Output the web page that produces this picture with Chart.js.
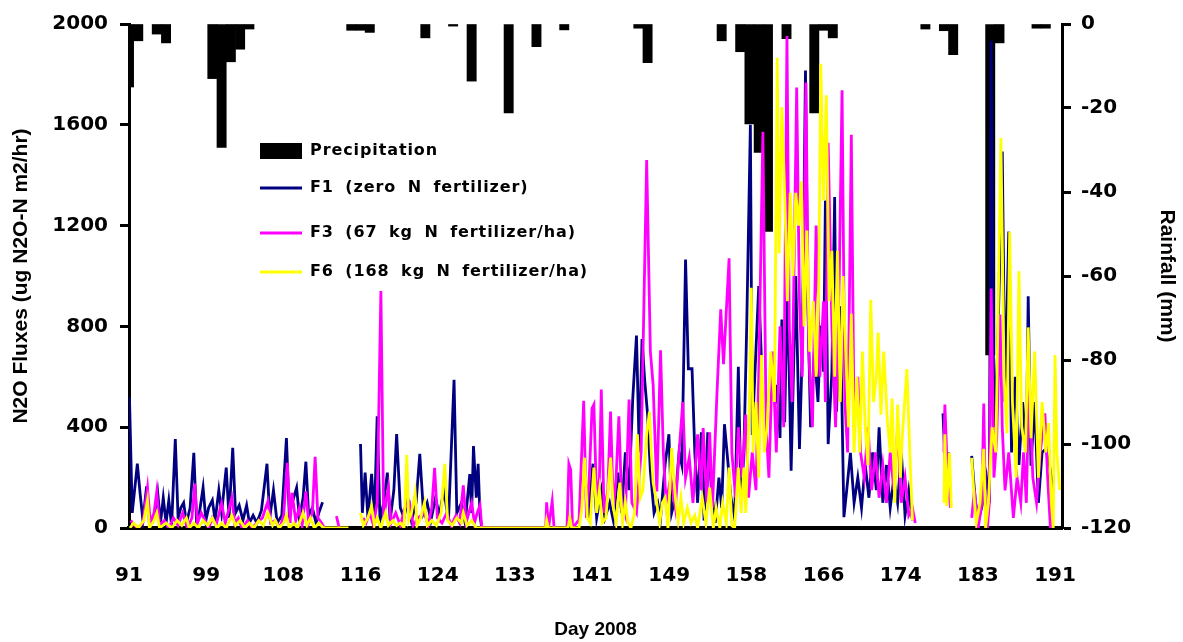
<!DOCTYPE html>
<html>
<head>
<meta charset="utf-8">
<script src="https://cdn.jsdelivr.net/npm/chart.js@4.4.1/dist/chart.umd.min.js"></script>
<style>
html,body{margin:0;padding:0;background:#fff;}
#wrap{width:1183px;height:642px;}
</style>
</head>
<body>
<div id="wrap"><canvas id="c" width="1183" height="642"></canvas></div>
<script>
// ---- data ----
const xTickLabels = [91, 99, 108, 116, 124, 133, 141, 149, 158, 166, 174, 183, 191];
const leftTicks = [0, 400, 800, 1200, 1600, 2000];
const rightTicks = [0, -20, -40, -60, -80, -100, -120];

const rainDays = [91, 92, 94, 95, 100, 101, 102, 103, 104, 115, 116, 117, 123, 126, 128, 132, 135, 138, 146, 147, 155, 157, 158, 159, 160, 162, 165, 166, 167, 177, 179, 180, 184, 185, 189, 190];
const rainMm   = [-15, -4, -2.4, -4.5, -13, -29.4, -9, -6, -1.2, -1.5, -1.5, -2, -3.3, -0.5, -13.6, -21.2, -5.4, -1.4, -1, -9.2, -4, -6.6, -23.8, -30.6, -49.4, -3.5, -21.2, -1.5, -3.3, -1.2, -1.6, -7.3, -78.8, -4.5, -1, -1];

const F1 = [
[91.05,520],[91.35,60],[91.9,255],[92.2,137],[92.5,30],[92.9,165],[93.2,20],[93.7,40],[94.1,140],[94.4,20],[94.7,120],[95.0,20],[95.3,110],[95.6,10],[96.0,353],[96.3,40],[96.6,80],[96.9,100],[97.2,20],[97.6,80],[98.0,298],[98.3,20],[98.6,60],[99.0,161],[99.3,30],[99.6,80],[100.0,110],[100.3,30],[100.7,150],[101.0,60],[101.5,240],[101.8,40],[102.2,318],[102.5,60],[102.9,90],[103.3,30],[103.7,90],[104.0,20],[104.4,50],[104.8,20],[105.3,70],[105.9,255],[106.2,40],[106.6,150],[107.0,20],[107.5,50],[108.0,357],[108.3,60],[108.7,110],[109.1,160],[109.4,40],[109.8,120],[110.1,263],[110.4,50],[110.8,80],[111.2,20],[111.5,60],[111.9,102],[112.1,null],
[116.0,333],[116.2,60],[116.5,220],[116.8,40],[117.2,215],[117.5,40],[117.8,443],[118.1,30],[118.5,100],[118.9,220],[119.2,30],[119.6,150],[119.9,373],[120.3,80],[120.7,40],[121.1,120],[121.5,30],[122.0,100],[122.4,294],[122.8,60],[123.2,100],[123.6,30],[124.1,120],[124.5,50],[125.0,150],[125.5,30],[126.1,588],[126.4,60],[126.9,100],[127.3,20],[127.8,214],[128.0,60],[128.2,325],[128.5,120],[128.7,255],[128.9,50],[129.1,0],[129.2,null],
[140.6,40],[141.1,255],[141.5,40],[142.0,150],[142.4,40],[142.9,100],[143.3,30],[143.8,220],[144.2,60],[144.6,300],[145.0,150],[145.4,515],[145.8,764],[146.1,300],[146.4,750],[146.7,580],[147.0,450],[147.3,227],[147.7,60],[148.1,100],[148.4,40],[148.9,255],[149.3,372],[149.6,60],[150.0,120],[150.4,300],[150.7,250],[151.1,1065],[151.4,632],[151.8,632],[152.1,300],[152.4,100],[152.8,380],[153.1,30],[153.5,380],[153.9,150],[154.3,20],[154.7,200],[155.0,80],[155.3,412],[155.7,250],[156.0,120],[156.4,40],[156.8,640],[157.1,100],[157.4,300],[157.7,796],[158.1,1600],[158.3,369],[158.6,620],[159.0,960],[159.3,659],[159.5,null],
[160.8,494],[161.0,568],[161.3,357],[161.5,827],[161.8,420],[162.1,980],[162.5,227],[163.0,1000],[163.4,314],[163.7,700],[164.05,1815],[164.3,900],[164.6,400],[165.0,700],[165.4,500],[165.7,803],[166.0,620],[166.2,1300],[166.5,333],[166.9,620],[167.2,1313],[167.4,462],[167.8,880],[168.2,43],[168.5,149],[168.9,298],[169.3,100],[169.7,200],[170.1,80],[170.5,250],[170.9,120],[171.3,300],[171.7,150],[172.0,400],[172.4,100],[172.8,250],[173.2,80],[173.6,200],[174.0,100],[174.4,300],[174.8,50],[175.2,150],[175.6,30],[175.8,null],
[178.9,455],[179.2,200],[179.5,300],[179.7,null],
[182.0,286],[182.4,100],[182.8,40],[183.2,100],[183.6,200],[183.9,100],[184.1,1933],[184.4,400],[184.8,700],[185.3,1494],[185.6,500],[186.0,1176],[186.3,300],[186.7,600],[187.1,250],[187.5,500],[187.9,300],[188.1,920],[188.4,247],[188.8,500],[189.2,100],[189.6,300],[190.0,314],[190.4,250],[190.8,150]
];

const F3 = [
[91.2,30],[91.6,10],[92.0,0],[92.5,20],[93.0,161],[93.3,20],[93.7,60],[94.0,145],[94.3,10],[94.8,30],[95.3,0],[95.8,40],[96.3,10],[96.8,60],[97.3,0],[97.8,40],[98.1,176],[98.4,20],[98.8,60],[99.2,30],[99.6,0],[100.0,40],[100.4,10],[101.0,98],[101.4,20],[102.1,120],[102.4,20],[102.8,40],[103.2,0],[103.8,30],[104.3,0],[104.8,20],[105.4,40],[106.0,106],[106.3,20],[106.8,30],[107.3,0],[107.7,50],[108.1,259],[108.4,20],[108.6,140],[109.0,30],[109.4,80],[109.7,10],[110.1,145],[110.4,20],[110.8,60],[111.1,282],[111.4,40],[111.8,20],[112.1,0],[112.4,null],
[113.4,47],[113.7,0],[113.9,null],
[116.3,40],[116.6,20],[117.0,60],[117.4,10],[117.8,100],[118.2,940],[118.5,40],[119.0,160],[119.3,20],[119.8,60],[120.3,10],[120.8,80],[121.3,100],[121.7,10],[122.2,40],[122.9,60],[123.3,10],[123.7,80],[124.0,239],[124.3,40],[124.8,20],[125.3,60],[125.8,10],[126.3,50],[126.7,20],[127.1,169],[127.4,20],[127.7,60],[128.0,100],[128.3,20],[128.6,60],[128.9,90],[129.1,0],[136.0,0],[136.1,102],[136.3,0],[136.7,106],[136.9,0],[138.3,0],[138.5,254],[138.7,230],[138.9,0],
[139.6,32],[140.1,505],[140.4,40],[140.7,200],[141.0,475],[141.2,490],[141.5,100],[141.8,200],[142.0,549],[142.3,60],[142.7,150],[143.0,462],[143.3,80],[143.6,200],[143.9,443],[144.2,100],[144.6,50],[145.0,510],[145.3,100],[145.8,60],[146.3,300],[146.9,1460],[147.3,700],[147.6,567],[148.0,145],[148.4,705],[148.7,300],[149.0,100],[149.5,200],[150.0,80],[150.4,300],[150.8,500],[151.1,200],[151.5,280],[151.9,100],[152.4,372],[152.8,150],[153.0,397],[153.4,100],[153.7,380],[154.0,80],[154.5,541],[154.9,868],[155.2,650],[155.5,860],[155.8,1070],
[156.1,300],[156.5,120],[156.8,400],[157.2,200],[157.6,450],[157.9,120],[158.3,300],[158.7,150],[159.0,600],[159.45,1572],[159.8,400],[160.1,200],[160.5,700],[160.9,300],[161.3,800],[161.7,400],[162.05,1952],[162.3,800],[162.6,500],[163.1,1748],[163.4,900],[163.7,600],[164.1,1768],[164.4,700],[164.8,400],[165.2,1200],[165.6,600],[166.0,900],[166.2,500],[166.5,1529],[166.9,800],[167.3,400],[167.7,1000],[168.0,1737],[168.3,500],[168.6,300],[169.0,1560],[169.3,400],[169.7,600],[170.0,300],[170.4,200],[170.8,400],[171.2,150],[171.6,300],[172.0,120],[172.4,250],[172.8,100],[173.2,300],[173.6,150],[174.0,400],[174.4,100],[174.8,200],[175.2,50],[175.6,80],[175.9,20],[176.0,null],
[179.0,300],[179.1,490],[179.4,200],[179.7,80],[179.9,null],
[182.0,40],[182.3,150],[182.7,0],[183.1,100],[183.3,494],[183.5,60],[183.7,0],[183.9,100],[184.1,950],[184.4,200],[184.7,357],[185.05,847],[185.3,400],[185.6,149],[186.0,300],[186.5,40],[186.9,200],[187.3,100],[187.6,300],[187.9,100],[188.2,600],[188.6,200],[189.0,100],[189.4,300],[189.9,455],[190.2,200],[190.5,0],[190.7,100]
];

const F6 = [
[91.1,0],[91.5,20],[92.0,0],[92.6,30],[93.0,110],[93.2,0],[93.7,30],[94.0,60],[94.3,0],[95.0,20],[95.6,0],[96.2,30],[96.7,10],[97.2,40],[97.5,0],[98.0,20],[98.5,0],[99.0,30],[99.5,10],[100.0,40],[100.5,0],[101.0,20],[101.5,0],[102.1,50],[102.5,10],[103.0,30],[103.5,0],[104.0,20],[104.5,0],[105.0,30],[105.5,10],[106.0,60],[106.5,10],[106.8,30],[107.2,0],[107.7,20],[108.0,50],[108.3,0],[108.8,20],[109.2,0],[109.8,60],[110.2,10],[110.6,40],[111.0,0],[111.5,20],[112.0,0],[114.7,0],[115.0,null],
[116.0,60],[116.3,10],[116.8,40],[117.2,88],[117.5,10],[117.8,40],[118.2,0],[118.7,60],[119.0,10],[119.5,30],[119.9,10],[120.3,20],[120.7,0],[121.0,290],[121.2,30],[121.5,60],[121.9,140],[122.1,10],[122.5,40],[122.9,100],[123.2,10],[123.7,30],[124.2,10],[124.7,60],[125.1,255],[125.4,30],[125.9,10],[126.4,40],[126.9,20],[127.1,60],[127.5,10],[128.0,30],[128.5,0],[129.1,0],[136.0,0],[136.1,30],[136.3,0],[138.4,0],[138.6,40],[138.8,0],[139.6,0],
[139.9,80],[140.2,279],[140.5,40],[140.8,20],[141.2,240],[141.5,60],[141.8,150],[142.1,20],[142.5,40],[143.0,279],[143.3,80],[143.6,20],[144.0,180],[144.3,20],[144.6,100],[144.9,20],[145.2,0],[145.6,60],[145.9,372],[146.2,120],[146.5,150],[146.9,370],[147.2,462],[147.4,300],[147.6,180],[147.9,120],[148.3,20],[148.6,100],[148.9,120],[149.2,0],[149.6,318],[150.0,120],[150.3,30],[150.6,120],[150.9,20],[151.3,80],[151.7,20],[152.1,50],[152.4,0],[152.9,120],[153.3,20],[153.7,160],[154.1,0],[154.4,80],[154.8,0],[155.1,100],[155.5,20],[155.8,240],[156.1,10],[156.4,0],[156.8,240],[157.1,60],[157.4,240],[157.6,60],
[158.0,500],[158.2,953],[158.4,300],[158.7,500],[159.0,200],[159.3,686],[159.6,300],[159.9,400],[160.3,700],[160.7,500],[161.0,1866],[161.2,1090],[161.5,1670],[161.8,1330],[162.1,900],[162.4,1330],[162.7,1000],[163.0,1330],[163.3,1200],[163.6,1376],[163.9,800],[164.2,1180],[164.5,700],[164.9,900],[165.2,600],[165.5,1000],[165.7,1842],[166.0,1300],[166.3,1717],[166.6,900],[166.9,1100],[167.2,600],[167.5,1100],[167.8,500],[168.1,1000],[168.4,700],[168.7,400],[169.0,850],[169.3,300],[169.6,600],[169.9,300],[170.2,700],[170.5,400],[170.8,250],[171.1,906],[171.4,500],[171.7,600],[171.9,776],[172.2,450],[172.5,700],[172.9,423],[173.2,300],[173.4,514],[173.7,100],[174.0,490],[174.3,200],[174.5,360],[175.0,631],[175.3,318],[175.6,30],[175.7,null],
[179.0,100],[179.1,372],[179.3,87],[179.6,298],[179.8,80],[180.0,null],
[182.0,278],[182.3,100],[182.5,20],[182.9,100],[183.3,314],[183.5,0],[183.8,100],[184.2,400],[184.6,300],[185.15,1548],[185.5,600],[185.8,376],[186.1,1176],[186.4,500],[186.8,200],[187.1,1019],[187.4,400],[187.8,300],[188.1,796],[188.4,356],[188.8,700],[189.2,200],[189.6,500],[190.0,300],[190.3,416],[190.6,100],[190.8,0],[191.0,686],[191.2,300],[191.5,150]
];

// ---- helpers ----
const toPts = arr => arr.map(p => ({x: p[0], y: p[1]}));
const rainPts = rainDays.map((d, i) => ({x: d, y: rainMm[i]}));
const X_MIN = 91, X_MAX = 191.75;
const TICK_FONT = {family: 'DejaVu Sans', size: 20, weight: 'bold'};
const TITLE_FONT = {family: 'Liberation Sans', size: 21, weight: 'bold'};

const legendPlugin = {
  id: 'insideLegend',
  afterDatasetsDraw(chart) {
    const ctx = chart.ctx;
    ctx.save();
    ctx.font = 'bold 16px "DejaVu Sans"';
    try { ctx.letterSpacing = '0.9px'; ctx.wordSpacing = '5px'; } catch (e) {}
    ctx.textBaseline = 'middle';
    ctx.fillStyle = '#000';
    ctx.fillRect(260, 143, 42, 16);
    ctx.fillText('Precipitation', 310, 151);
    const items = [
      ['#000080', 'F1 (zero N fertilizer)', 188],
      ['#FF00FF', 'F3 (67 kg N fertilizer/ha)', 233],
      ['#FFFF00', 'F6 (168 kg N fertilizer/ha)', 272]
    ];
    items.forEach(([col, txt, y]) => {
      ctx.strokeStyle = col; ctx.lineWidth = 3;
      ctx.beginPath(); ctx.moveTo(260, y); ctx.lineTo(302, y); ctx.stroke();
      ctx.fillStyle = '#000';
      ctx.fillText(txt, 310, y);
    });
    ctx.restore();
  }
};

const lineDs = (label, data, color, order) => ({
  type: 'line', label, data: toPts(data), yAxisID: 'y', xAxisID: 'x',
  borderColor: color, backgroundColor: color, borderWidth: 2.8,
  pointRadius: 0, tension: 0, spanGaps: false, order
});

new Chart(document.getElementById('c'), {
  data: {
    datasets: [
      lineDs('F6 (168 kg N fertilizer/ha)', F6, '#FFFF00', 0),
      lineDs('F3 (67 kg N fertilizer/ha)', F3, '#FF00FF', 1),
      lineDs('F1 (zero N fertilizer)', F1, '#000080', 2),
      {type: 'bar', label: 'Precipitation', data: rainPts, yAxisID: 'y2', xAxisID: 'x',
       backgroundColor: '#000', borderWidth: 0, barPercentage: 1, categoryPercentage: 1, order: 3}
    ]
  },
  options: {
    responsive: false, animation: false, devicePixelRatio: 1,
    layout: {padding: {top: 18, left: 0, right: 0, bottom: 0}},
    plugins: {legend: {display: false}, tooltip: {enabled: false}},
    scales: {
      x: {
        type: 'linear', position: 'bottom', min: X_MIN, max: X_MAX, offset: false,
        afterFit: s => { s.height = 114; },
        afterBuildTicks: s => { s.ticks = xTickLabels.map((v, i) => ({value: X_MIN + i * 100 / 12})); },
        ticks: {autoSkip: false, maxRotation: 0, minRotation: 0, padding: 36, color: '#000', font: TICK_FONT,
                callback: (v, i) => String(xTickLabels[i])},
        grid: {display: true, drawOnChartArea: false, drawTicks: false, tickLength: 0},
        border: {display: true, color: '#000', width: 4},
        title: {display: true, text: 'Day 2008', color: '#000', font: {family: 'Liberation Sans', size: 19, weight: 'bold'}, padding: {top: 0, bottom: 1}}
      },
      y: {
        type: 'linear', position: 'left', min: 0, max: 2000,
        afterFit: s => { s.width = 129; },
        afterBuildTicks: s => { s.ticks = leftTicks.map(v => ({value: v})); },
        ticks: {padding: 12, color: '#000', font: TICK_FONT, callback: v => String(v)},
        grid: {display: true, drawOnChartArea: false, drawTicks: true, tickLength: 9, tickColor: '#000', tickWidth: 3},
        border: {display: true, color: '#000', width: 3},
        title: {display: true, text: 'N2O Fluxes (ug N2O-N m2/hr)', color: '#000', font: TITLE_FONT, padding: {top: 9, bottom: 0}}
      },
      y2: {
        type: 'linear', position: 'right', min: -120, max: 0,
        afterFit: s => { s.width = 121; },
        afterBuildTicks: s => { s.ticks = rightTicks.map(v => ({value: v})); },
        ticks: {padding: 10, color: '#000', font: TICK_FONT, callback: v => String(v)},
        grid: {display: true, drawOnChartArea: false, drawTicks: true, tickLength: 9, tickColor: '#000', tickWidth: 3},
        border: {display: true, color: '#000', width: 3},
        title: {display: true, text: 'Rainfall (mm)', color: '#000', font: TITLE_FONT, padding: {top: 4, bottom: 0}}
      }
    }
  },
  plugins: [legendPlugin]
});
</script>
</body>
</html>
